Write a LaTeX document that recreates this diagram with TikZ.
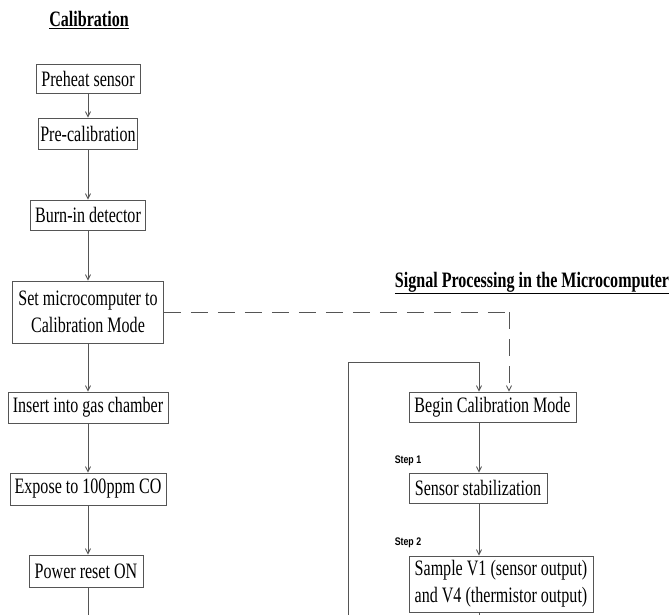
\documentclass[tikz,border=0pt]{standalone}
\usepackage{fontspec}
\setmainfont[FakeStretch=0.73]{Liberation Serif}
\newfontfamily\stepfont[FakeStretch=0.8]{Liberation Sans}
\usetikzlibrary{arrows.meta}
\definecolor{edge}{HTML}{555555}
\begin{document}
\begin{tikzpicture}[x=1pt,y=-1pt,
  every node/.style={font=\fontsize{22}{27}\selectfont},
  stepbox/.style={draw=edge,line width=0.9pt,inner sep=0pt,align=center},
  title/.style={font=\fontsize{22}{24}\selectfont\bfseries},
  steplabel/.style={font=\stepfont\bfseries\fontsize{11}{12}\selectfont},
  flow/.style={draw=edge,line width=0.9pt,-{Straight Barb[length=5pt,width=5pt]}},
  plain/.style={draw=edge,line width=0.9pt},
  link/.style={draw=edge,line width=0.9pt,dash pattern=on 17pt off 10pt}]
\useasboundingbox (0,0) rectangle (670,615);

% left column: calibration
\node[title] (caltitle) at (89,20) {\underline{Calibration}};
\node[stepbox,minimum width=104pt,minimum height=29pt] (preheat) at (88,78.5) {Preheat sensor};
\node[stepbox,minimum width=99pt,minimum height=31pt] (precal) at (88,133.5) {Pre-calibration};
\node[stepbox,minimum width=115pt,minimum height=30pt] (burn) at (88,215) {Burn-in detector};
\node[stepbox,minimum width=151pt,minimum height=62pt] (setmc) at (88,312) {Set microcomputer to\\Calibration Mode};
\node[stepbox,minimum width=160pt,minimum height=31pt] (insert) at (88,407.5) {Insert into gas chamber};
\node[stepbox,minimum width=156pt,minimum height=32pt] (expose) at (88,489) {Expose to 100ppm CO};
\node[stepbox,minimum width=114pt,minimum height=32pt] (power) at (86,571) {Power reset ON};
\coordinate (calend) at (88,615);

\draw[flow] (preheat) -- (precal);
\draw[flow] (precal) -- (burn);
\draw[flow] (burn) -- (setmc);
\draw[flow] (setmc) -- (insert);
\draw[flow] (insert) -- (expose);
\draw[flow] (expose) -- (power.north -| expose);
\draw[plain] (power.south -| calend) -- (calend);

% right column: signal processing
\node[title] (sptitle) at (532,283) {\underline{Signal Processing in the Microcomputer}};
\node[stepbox,minimum width=167pt,minimum height=30pt] (begin) at (492.5,407) {Begin Calibration Mode};
\node[steplabel] (step1) at (408,461) {Step 1};
\node[stepbox,minimum width=138pt,minimum height=30pt] (stab) at (478,488) {Sensor stabilization};
\node[steplabel] (step2) at (408,543) {Step 2};
\node[stepbox,minimum width=184pt,minimum height=56pt] (sample) at (501,584) {Sample V1 (sensor output)\\and V4 (thermistor output)};

\coordinate (loopin) at (479,362);
\coordinate (loopleft) at (348,362);
\coordinate (loopbottom) at (348,615);
\coordinate (linkturn) at (509,312);
\coordinate (sampleend) at (479,615);

\draw[flow] (begin.south -| loopin) -- (stab.north -| loopin);
\draw[flow] (stab.south -| loopin) -- (sample.north -| loopin);
\draw[plain] (sample.south -| sampleend) -- (sampleend);
\draw[flow] (loopbottom) -- (loopleft) -- (loopin) -- (begin.north -| loopin);
\draw[link] (setmc.east) -- (linkturn);
\draw[flow,dash pattern=on 17pt off 10pt] (linkturn) -- (begin.north -| linkturn);
\end{tikzpicture}
\end{document}
